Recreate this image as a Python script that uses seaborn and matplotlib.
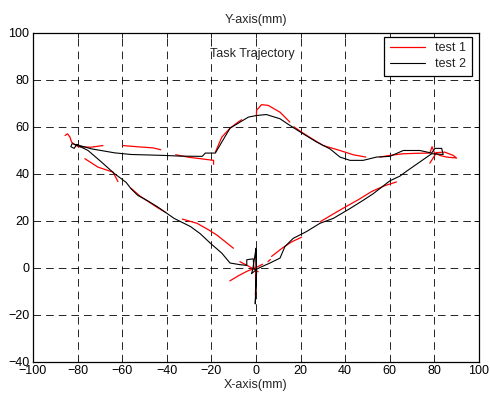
import numpy as np
import pandas as pd
import matplotlib.pyplot as plt
import seaborn as sns
from matplotlib.lines import Line2D

# test 2 (black) - one pen path plus the spike at the origin
test2_x = [0, -0.9, -1.2, -4.1, -4.1, -7.1, -11.6, -15.3, -20.4, -25, -29.3, -36.7, -44.1,
           -48.6, -53, -56, -58.2, -60.4, -63.4, -69.3, -75.3, -80.4, -82.5, -83, -81.5,
           -80.4, -79, -73.8, -63.4, -56, -41.2, -33.8, -24.1, -22.7, -18.2, -15.3, -11.6,
           -7.1, -3.4, 0.3, 4.7, 10.8, 15.2, 20, 27.2, 33.2, 37.7, 42.2, 48.1, 54.1, 60.1,
           66.1, 73.5, 78.8, 80.3, 83.3, 84, 79.5, 78.8, 73.5, 67.6, 64.6, 60.1, 52.6, 48.1,
           42.2, 34.7, 28.7, 22.7, 16.7, 13, 10.8, 6.3, 1.8, 0]
test2_y = [-0.8, -0.4, 3.8, 3.4, 1, 1.3, 2, 6.2, 10.4, 14.5, 17.5, 21, 25.9,
           28.5, 30.8, 33.6, 36.3, 37.9, 40, 45, 49.9, 52.3, 52.8, 51.5, 50.8,
           52.5, 52, 50.6, 48.9, 48.2, 47.8, 47.5, 47.4, 48.8, 48.8, 53.5, 59.4,
           62, 64.1, 64.8, 65.2, 63.4, 60.6, 57.7, 53.5, 50.6, 47.1, 45.7, 45.7, 47.1, 47.4,
           49.9, 49.9, 48.8, 50.8, 50.8, 48.2, 48.5, 48.5, 45, 41.1, 39, 37, 31.5, 28.7,
           25.2, 21, 18.9, 15.4, 12.5, 9, 4.1, 2, 0.1, -0.8]
spike2_x = [0, 0.3, -0.3, 0.2, 0, -1.5, -2, 0]
spike2_y = [8.3, -2, -15.4, 0, 8, -1, -2.5, -1]

# test 1 (red) - broken strokes
test1_segments = [
    ([-85.6, -84.5, -83.4, -82.7, -81, -79.7, -74, -68.6],
     [56.3, 57, 55.6, 53.5, 52.2, 51.5, 51.3, 52]),
    ([-59.7, -52, -46, -42.7], [52, 51.4, 51, 50.2]),
    ([-36, -30, -24, -19, -19], [48.1, 47, 46.3, 45.7, 44]),
    ([-18.2, -15.3, -11.6, -8, -6.4], [49.2, 55.6, 59.4, 62, 63]),
    ([0.2, 0.3, 2.5, 5.5, 10.8, 15.2], [64.5, 67, 69.4, 69.1, 66.2, 62]),
    ([17, 20.5, 25, 30.2, 37.7, 43.6, 49.3], [60, 57.7, 55, 52, 49.9, 48.1, 47.1]),
    ([55.6, 60, 66, 72, 78, 79, 80, 82.5, 85.5, 90, 88.5, 84.7, 81, 78],
     [47.1, 47.8, 48.5, 48.7, 48.8, 51.5, 49, 47.8, 47.1, 46.7, 47.8, 49.2, 49, 44.5]),
    ([28.7, 34, 40, 46, 52, 58, 63], [19.5, 22.5, 25.8, 29, 32.5, 35, 36.5]),
    ([7, 12, 16, 20.5], [4.8, 8.5, 11, 13]),
    ([-76.7, -70.8, -64.1, -61.9], [46.4, 42.8, 40.7, 36.7]),
    ([-56, -52, -48, -44, -40.4], [33.8, 30.5, 28, 25.5, 23.5]),
    ([-33, -26.4, -21, -17.5, -13, -10.1], [20.7, 18.9, 16, 13.9, 10.5, 8.3]),
    ([-11.7, -8, -4, -0.5, 3], [-5.6, -3.5, -1.5, -0.2, 1.5]),
    ([-7.2, -3, 1], [2.6, 0.5, -1.7]),
    ([0.2, 0, -0.2, 0.1], [7.5, -2, -11.6, 0]),
    ([5.4, 6.5], [2.6, 3.5]),
]

sns.set_theme(style="white", rc={"lines.scale_dashes": False})
plt.rcParams["font.family"] = ["Liberation Sans", "DejaVu Sans"]
plt.rcParams["font.size"] = 9

fig = plt.figure(figsize=(4.9, 3.93), dpi=100)
ax = fig.add_axes([0.0673, 0.0796, 0.910, 0.837])

rows = []
for i, (xs, ys) in enumerate(test1_segments):
    for x, y in zip(xs, ys):
        rows.append({"x": x, "y": y, "seg": i})
df1 = pd.DataFrame(rows)
df2 = pd.concat([
    pd.DataFrame({"x": test2_x, "y": test2_y, "seg": 0}),
    pd.DataFrame({"x": spike2_x, "y": spike2_y, "seg": 1}),
])

sns.lineplot(data=df1, x="x", y="y", units="seg", estimator=None, sort=False,
             color="red", linewidth=0.9, ax=ax, legend=False)
sns.lineplot(data=df2, x="x", y="y", units="seg", estimator=None, sort=False,
             color="black", linewidth=0.8, ax=ax, legend=False)

ax.set_xlim(-100, 100)
ax.set_ylim(-40, 100)
ax.set_xticks(np.arange(-100, 101, 20))
ax.set_yticks(np.arange(-40, 101, 20))
ax.grid(True, color="black", linestyle=(0, (5.5, 3.6)), linewidth=0.6)
ax.tick_params(direction="in", top=True, right=True, length=3.5, width=0.6,
               labelsize=9, colors="black", pad=2.5)
for s in ax.spines.values():
    s.set_color("black")
    s.set_linewidth(0.9)

ax.set_title("Y-axis(mm)", fontsize=9, pad=7)
ax.set_xlabel("X-axis(mm)", fontsize=9, labelpad=1)
ax.set_ylabel("")
ax.text(-20.5, 91, "Task Trajectory", fontsize=9, ha="left", va="center")

handles = [Line2D([], [], color="red", lw=0.9), Line2D([], [], color="black", lw=0.8)]
leg = ax.legend(handles, ["test 1", "test 2"], loc="upper right",
                bbox_to_anchor=(0.984, 0.988), borderaxespad=0, fancybox=False,
                framealpha=1, edgecolor="black", fontsize=9, handlelength=2.8,
                labelspacing=0.3, borderpad=0.45)
leg.get_frame().set_linewidth(0.9)

plt.savefig("out.png", dpi=100)
